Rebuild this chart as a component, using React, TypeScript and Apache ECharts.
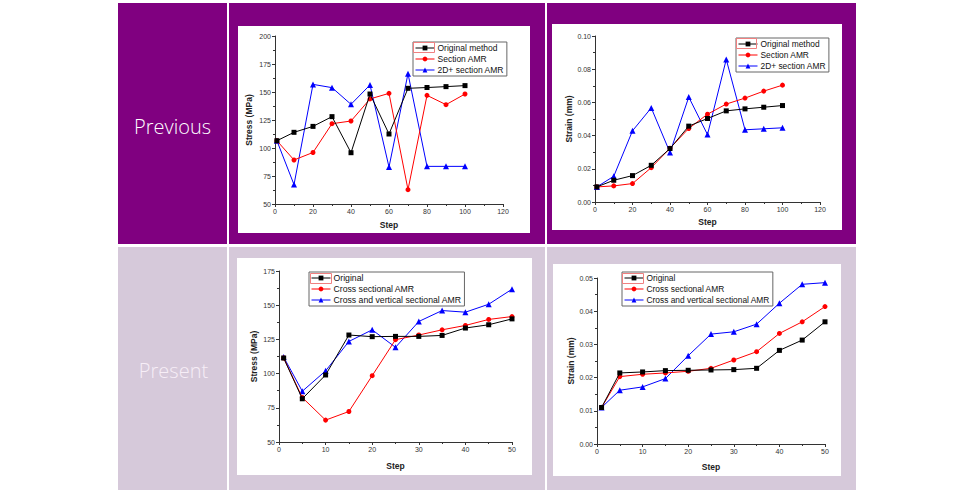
import React, { useEffect, useRef } from "react";
import * as echarts from "echarts";

const stepsPrevious = [1, 10, 20, 30, 40, 50, 60, 70, 80, 90, 100];
const stressPrevOriginal = [106.5, 114, 119.3, 128, 95.8, 148.2, 112.5, 153.3, 154, 154.8, 155.7];
const stressPrevSection = [106.5, 89.3, 96, 121.7, 124.1, 143.8, 148.8, 62.8, 147, 138.7, 148.2];
const stressPrev2D = [106.5, 67.3, 156.8, 153.9, 139, 156.3, 83, 166.4, 83.6, 83.6, 83.6];

const strainPrevOriginal = [0.0091, 0.0131, 0.0159, 0.0221, 0.0322, 0.0457, 0.0503, 0.0549, 0.0561, 0.0571, 0.0581];
const strainPrevSection = [0.0091, 0.0097, 0.0111, 0.0207, 0.0324, 0.0443, 0.0529, 0.059, 0.0626, 0.0668, 0.0704];
const strainPrev2D = [0.0091, 0.0155, 0.0429, 0.0567, 0.0298, 0.0632, 0.0406, 0.0859, 0.0435, 0.0441, 0.0447];

const stepsPresent = [1, 5, 10, 15, 20, 25, 30, 35, 40, 45, 50];
const stressPresOriginal = [111.4, 81.6, 99, 128.2, 127, 127.2, 127.2, 127.9, 133.3, 135.7, 140];
const stressPresCross = [111.4, 82.5, 66, 72.3, 98.5, 124.8, 128.2, 132, 135.2, 139.6, 141.7];
const stressPresCrossVert = [112.1, 87.1, 102, 123.5, 132, 119.2, 138.1, 146.1, 144.9, 150.7, 161.7];

const strainPresOriginal = [0.011, 0.0214, 0.0217, 0.0221, 0.0222, 0.0223, 0.0224, 0.0228, 0.0282, 0.0313, 0.0368];
const strainPresCross = [0.011, 0.0203, 0.021, 0.0214, 0.0219, 0.0228, 0.0253, 0.0278, 0.0333, 0.0368, 0.0414];
const strainPresCrossVert = [0.011, 0.0162, 0.0172, 0.0197, 0.0266, 0.0331, 0.0338, 0.0361, 0.0424, 0.0481, 0.0486];

const namesPrevious = ["Original method", "Section AMR", "2D+ section AMR"];
const namesPresent = ["Original", "Cross sectional AMR", "Cross and vertical sectional AMR"];
const rowLabels = ["Previous", "Present"];

const FONT = "Liberation Sans, Arial, sans-serif";
const COLORS = ["#000000", "#ff0000", "#0000ff"];
const SYMBOLS = ["rect", "circle", "triangle"];

function zip(xs: number[], ys: number[]) {
  return xs.map((x, i) => [x, ys[i]]);
}

function makeAxis(idx: number, min: number, max: number, interval: number, name: string, gap: number, isY: boolean, decimals: number) {
  return {
    type: "value",
    gridIndex: idx,
    min,
    max,
    interval,
    name,
    nameLocation: "middle",
    nameGap: gap,
    nameRotate: isY ? 90 : 0,
    nameTextStyle: { fontFamily: FONT, fontSize: 8.5, fontWeight: "bold", color: "#222" },
    axisLine: { show: true, onZero: false, lineStyle: { color: "#333", width: 1 } },
    axisTick: { show: true, length: 3, lineStyle: { color: "#333" } },
    minorTick: { show: true, splitNumber: 2, length: 2, lineStyle: { color: "#333" } },
    splitLine: { show: false },
    axisLabel: {
      fontFamily: FONT,
      fontSize: 7,
      color: "#333",
      margin: 4,
      formatter: (v: number) => v.toFixed(decimals),
    },
  };
}

function makeSeries(idx: number, names: string[], xs: number[], ys: number[][]) {
  return names.map((n, i) => ({
    type: "line",
    name: n,
    xAxisIndex: idx,
    yAxisIndex: idx,
    data: zip(xs, ys[i]),
    symbol: SYMBOLS[i],
    symbolSize: i === 2 ? 6 : 5,
    itemStyle: { color: COLORS[i] },
    lineStyle: { color: COLORS[i], width: 1 },
    z: 2 + (2 - i),
  }));
}

function makeLegend(names: string[], left: number, top: number, fontSize: number) {
  return {
    data: names,
    orient: "vertical",
    left,
    top,
    itemWidth: 19,
    itemHeight: 6,
    itemGap: 1,
    padding: [1, 3, 1, 2],
    borderColor: "#666",
    borderWidth: 1,
    backgroundColor: "#fff",
    selectedMode: false,
    lineStyle: { width: 1 },
    textStyle: { fontFamily: FONT, fontSize, color: "#111", padding: [0, 0, 0, -2], lineHeight: 10 },
  };
}

export default function App() {
  const ref = useRef<HTMLDivElement>(null);
  useEffect(() => {
    const chart = echarts.init(ref.current!, null, { renderer: "svg" });
    const purple = "#800080";
    const light = "#d6c9da";
    const bg = (x: number, y: number, w: number, h: number, fill: string) => ({
      type: "rect",
      z: -10,
      shape: { x, y, width: w, height: h },
      style: { fill },
      silent: true,
    });
    const redBox = (x: number, y: number, w: number, h: number) => ({
      type: "rect",
      z: 100,
      shape: { x, y, width: w, height: h },
      style: { fill: "none", stroke: "#f08080", lineWidth: 1 },
      silent: true,
    });
    const option = {
      animation: false,
      graphic: [
        bg(118, 3, 109, 241, purple),
        bg(229, 3, 316, 241, purple),
        bg(547, 3, 309, 241, purple),
        bg(118, 247, 109, 243, light),
        bg(229, 247, 316, 243, light),
        bg(547, 247, 309, 243, light),
        bg(238, 26, 292, 207, "#ffffff"),
        bg(552, 24, 290, 206, "#ffffff"),
        bg(237, 258, 295, 217, "#ffffff"),
        bg(553, 264, 288, 212, "#ffffff"),
        redBox(413.5, 42.5, 21, 10),
        redBox(736.5, 38.5, 20, 10),
        redBox(310.5, 273.5, 21, 10),
        redBox(622.5, 273.5, 21, 10),
        {
          type: "text",
          z: 5,
          x: 172.5,
          y: 126,
          style: { text: rowLabels[0], fill: "#ffffff", font: "300 20px 'Open Sans', 'Noto Sans', sans-serif", align: "center", verticalAlign: "middle" },
        },
        {
          type: "text",
          z: 5,
          x: 173.5,
          y: 370,
          style: { text: rowLabels[1], fill: "#f7eef7", font: "300 20px 'Open Sans', 'Noto Sans', sans-serif", align: "center", verticalAlign: "middle" },
        },
      ],
      grid: [
        { left: 275, top: 36, width: 228, height: 168 },
        { left: 595, top: 36, width: 225, height: 166 },
        { left: 279, top: 271, width: 233, height: 171 },
        { left: 597, top: 278, width: 228, height: 166 },
      ],
      xAxis: [
        makeAxis(0, 0, 120, 20, "Step", 16, false, 0),
        makeAxis(1, 0, 120, 20, "Step", 15, false, 0),
        makeAxis(2, 0, 50, 10, "Step", 19, false, 0),
        makeAxis(3, 0, 50, 10, "Step", 18, false, 0),
      ],
      yAxis: [
        makeAxis(0, 50, 200, 25, "Stress (MPa)", 22, true, 0),
        makeAxis(1, 0, 0.1, 0.02, "Strain (mm)", 20, true, 2),
        makeAxis(2, 50, 175, 25, "Stress (MPa)", 21, true, 0),
        makeAxis(3, 0, 0.05, 0.01, "Strain (mm)", 21, true, 2),
      ],
      legend: [
        makeLegend(namesPrevious, 413, 42, 8.5),
        makeLegend(namesPrevious, 736, 38, 8.4),
        makeLegend(namesPresent, 309, 272, 8.7),
        makeLegend(namesPresent, 622, 272, 8.4),
      ],
      series: [
        ...makeSeries(0, namesPrevious, stepsPrevious, [stressPrevOriginal, stressPrevSection, stressPrev2D]),
        ...makeSeries(1, namesPrevious, stepsPrevious, [strainPrevOriginal, strainPrevSection, strainPrev2D]),
        ...makeSeries(2, namesPresent, stepsPresent, [stressPresOriginal, stressPresCross, stressPresCrossVert]),
        ...makeSeries(3, namesPresent, stepsPresent, [strainPresOriginal, strainPresCross, strainPresCrossVert]),
      ],
    };
    chart.setOption(option as any);
    return () => chart.dispose();
  }, []);
  return (
    <div
      ref={ref}
      style={{ position: "absolute", left: 0, top: 0, width: 970, height: 503, background: "#ffffff" }}
    />
  );
}
